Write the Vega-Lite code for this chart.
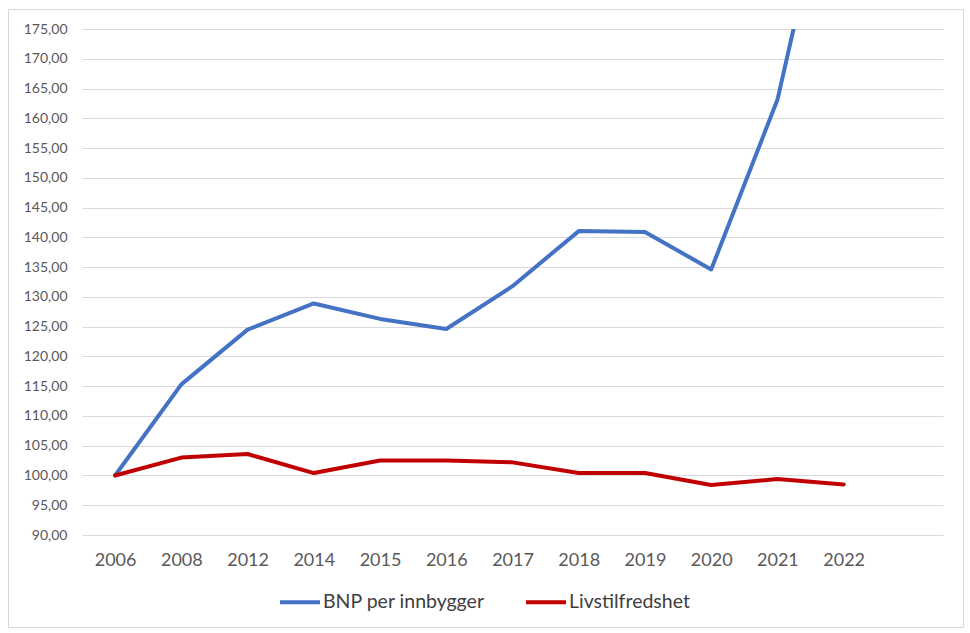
{
  "$schema": "https://vega.github.io/schema/vega-lite/v6.json",
  "width": 861,
  "height": 506,
  "autosize": {"type": "none"},
  "padding": {"left": 82, "top": 29, "right": 27, "bottom": 98},
  "background": "white",
  "config": {"view": {"stroke": null}, "font": "Lato"},
  "data": {
    "values": [
      {"year": "2006", "series": "BNP per innbygger", "value": 100},
      {"year": "2008", "series": "BNP per innbygger", "value": 115.3},
      {"year": "2012", "series": "BNP per innbygger", "value": 124.5},
      {"year": "2014", "series": "BNP per innbygger", "value": 128.9},
      {"year": "2015", "series": "BNP per innbygger", "value": 126.3},
      {"year": "2016", "series": "BNP per innbygger", "value": 124.6},
      {"year": "2017", "series": "BNP per innbygger", "value": 131.8},
      {"year": "2018", "series": "BNP per innbygger", "value": 141.05},
      {"year": "2019", "series": "BNP per innbygger", "value": 140.9},
      {"year": "2020", "series": "BNP per innbygger", "value": 134.6},
      {"year": "2021", "series": "BNP per innbygger", "value": 163.1},
      {"year": "2022", "series": "BNP per innbygger", "value": 212},
      {"year": "2006", "series": "Livstilfredshet", "value": 100},
      {"year": "2008", "series": "Livstilfredshet", "value": 103.0},
      {"year": "2012", "series": "Livstilfredshet", "value": 103.6},
      {"year": "2014", "series": "Livstilfredshet", "value": 100.4},
      {"year": "2015", "series": "Livstilfredshet", "value": 102.5},
      {"year": "2016", "series": "Livstilfredshet", "value": 102.5},
      {"year": "2017", "series": "Livstilfredshet", "value": 102.2},
      {"year": "2018", "series": "Livstilfredshet", "value": 100.4},
      {"year": "2019", "series": "Livstilfredshet", "value": 100.4},
      {"year": "2020", "series": "Livstilfredshet", "value": 98.4},
      {"year": "2021", "series": "Livstilfredshet", "value": 99.4},
      {"year": "2022", "series": "Livstilfredshet", "value": 98.5}
    ]
  },
  "layer": [
    {
      "mark": {"type": "line", "strokeWidth": 4, "clip": true, "strokeCap": "round", "strokeJoin": "round"},
      "encoding": {
        "x": {
          "field": "year", "type": "ordinal",
          "scale": {"type": "point", "padding": 0.5, "domain": ["2006","2008","2012","2014","2015","2016","2017","2018","2019","2020","2021","2022","2023"]},
          "axis": {"orient": "bottom", "title": null, "domain": false, "ticks": false, "grid": false, "labelAngle": 0, "labelPadding": 16, "labelFontSize": 18, "labelColor": "#595959", "labelExpr": "datum.value == '2023' ? '' : datum.label"}
        },
        "y": {
          "field": "value", "type": "quantitative",
          "scale": {"domain": [90, 175], "nice": false, "zero": false},
          "axis": {"orient": "left", "title": null, "domain": false, "ticks": false, "values": [90,95,100,105,110,115,120,125,130,135,140,145,150,155,160,165,170,175], "labelExpr": "replace(format(datum.value, '.2f'), '.', ',')", "labelFontSize": 14, "labelColor": "#595959", "labelPadding": 15, "grid": true, "gridColor": "#D9D9D9", "gridWidth": 1}
        },
        "color": {
          "field": "series", "type": "nominal",
          "scale": {"domain": ["BNP per innbygger", "Livstilfredshet"], "range": ["#4472C4", "#C00000"]},
          "legend": {"orient": "none", "legendX": 196, "legendY": 551, "direction": "horizontal", "title": null, "symbolType": "stroke", "symbolSize": 1600, "symbolStrokeWidth": 4, "labelFontSize": 19.5, "labelLimit": 400, "labelColor": "#404040", "labelOffset": 1, "columnPadding": 33}
        }
      }
    },
    {
      "mark": {"type": "point", "opacity": 0, "clip": true},
      "encoding": {
        "x": {"field": "value", "type": "quantitative", "scale": {"domain": [0, 1], "range": [-74, 881]}, "axis": {"orient": "top", "offset": 20, "title": null, "labels": false, "ticks": false, "grid": false, "domainColor": "#D9D9D9", "domainWidth": 1}},
        "y": {"field": "value", "type": "quantitative", "scale": {"domain": [0, 1], "range": [598, -20]}, "axis": {"orient": "left", "offset": 74, "title": null, "labels": false, "ticks": false, "grid": false, "domainColor": "#D9D9D9", "domainWidth": 1}}
      }
    },
    {
      "mark": {"type": "point", "opacity": 0, "clip": true},
      "encoding": {
        "x": {"field": "value", "type": "quantitative", "scale": {"domain": [0, 1], "range": [-74, 881]}, "axis": {"orient": "bottom", "offset": 92, "title": null, "labels": false, "ticks": false, "grid": false, "domainColor": "#D9D9D9", "domainWidth": 1}},
        "y": {"field": "value", "type": "quantitative", "scale": {"domain": [0, 1], "range": [598, -20]}, "axis": {"orient": "right", "offset": 20, "title": null, "labels": false, "ticks": false, "grid": false, "domainColor": "#D9D9D9", "domainWidth": 1}}
      }
    }
  ],
  "resolve": {"scale": {"x": "independent", "y": "independent"}}
}
